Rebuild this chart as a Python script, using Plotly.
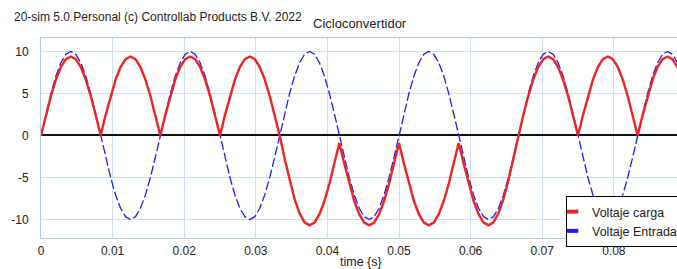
import plotly.graph_objects as go

# sampling: one value every 15 degrees of the 60 Hz supply (1/1440 s)
SAMPLE_STEP = 1 / 1440

voltaje_entrada = [
    0.0, 2.59, 5.0, 7.07, 8.66, 9.66, 10.0, 9.66, 8.66, 7.07, 5.0, 2.59,
    0.0, -2.59, -5.0, -7.07, -8.66, -9.66, -10.0, -9.66, -8.66, -7.07, -5.0, -2.59,
    0.0, 2.59, 5.0, 7.07, 8.66, 9.66, 10.0, 9.66, 8.66, 7.07, 5.0, 2.59,
    0.0, -2.59, -5.0, -7.07, -8.66, -9.66, -10.0, -9.66, -8.66, -7.07, -5.0, -2.59,
    0.0, 2.59, 5.0, 7.07, 8.66, 9.66, 10.0, 9.66, 8.66, 7.07, 5.0, 2.59,
    0.0, -2.59, -5.0, -7.07, -8.66, -9.66, -10.0, -9.66, -8.66, -7.07, -5.0, -2.59,
    0.0, 2.59, 5.0, 7.07, 8.66, 9.66, 10.0, 9.66, 8.66, 7.07, 5.0, 2.59,
    0.0, -2.59, -5.0, -7.07, -8.66, -9.66, -10.0, -9.66, -8.66, -7.07, -5.0, -2.59,
    0.0, 2.59, 5.0, 7.07, 8.66, 9.66, 10.0, 9.66, 8.66, 7.07, 5.0, 2.59,
    0.0, -2.59, -5.0, -7.07, -8.66, -9.66, -10.0, -9.66, -8.66, -7.07, -5.0, -2.59,
    0.0, 2.59, 5.0, 7.07, 8.66, 9.66, 10.0, 9.66, 8.66, 7.07, 5.0, 2.59,
    0.0, -2.59, -5.0, -7.07, -8.66, -9.66, -10.0, -9.66, -8.66, -7.07, -5.0, -2.59,
    0.0,
]

voltaje_carga = [
    0.0, 2.43, 4.7, 6.65, 8.14, 9.08, 9.4, 9.08, 8.14, 6.65, 4.7, 2.43,
    0.0, 2.43, 4.7, 6.65, 8.14, 9.08, 9.4, 9.08, 8.14, 6.65, 4.7, 2.43,
    0.0, 2.43, 4.7, 6.65, 8.14, 9.08, 9.4, 9.08, 8.14, 6.65, 4.7, 2.43,
    0.0, 2.43, 4.7, 6.65, 8.14, 9.08, 9.4, 9.08, 8.14, 6.65, 4.7, 2.43,
    0.0, -2.77, -5.35, -7.57, -9.27, -10.34, -10.7, -10.36, -9.37, -7.8, -5.75, -3.36,
    -0.9, -3.36, -5.75, -7.8, -9.37, -10.36, -10.7, -10.36, -9.37, -7.8, -5.75, -3.36,
    -0.9, -3.36, -5.75, -7.8, -9.37, -10.36, -10.7, -10.36, -9.37, -7.8, -5.75, -3.36,
    -0.9, -3.36, -5.75, -7.8, -9.37, -10.36, -10.7, -10.34, -9.27, -7.57, -5.35, -2.77,
    0.0, 2.43, 4.7, 6.65, 8.14, 9.08, 9.4, 9.08, 8.14, 6.65, 4.7, 2.43,
    0.0, 2.43, 4.7, 6.65, 8.14, 9.08, 9.4, 9.08, 8.14, 6.65, 4.7, 2.43,
    0.0, 2.43, 4.7, 6.65, 8.14, 9.08, 9.4, 9.08, 8.14, 6.65, 4.7, 2.43,
    0.0, 2.43, 4.7, 6.65, 8.14, 9.08, 9.4, 9.08, 8.14, 6.65, 4.7, 2.43,
    0.0,
]

x_ticks = [0, 0.01, 0.02, 0.03, 0.04, 0.05, 0.06, 0.07, 0.08]
x_tick_labels = ["0", "0.01", "0.02", "0.03", "0.04", "0.05", "0.06", "0.07", "0.08"]
y_ticks = [-10, -5, 0, 5, 10]
y_tick_labels = ["-10", "-5", "0", "5", "10"]

RED = "#ee2424"
BLUE = "#1c1cff"
GRID = "#cfe0f5"
FRAME = "#b3cbea"
FONT = "Liberation Sans, Arial, sans-serif"
TXT = "#222222"

fig = go.Figure()
fig.add_trace(go.Scatter(
    x0=0, dx=SAMPLE_STEP, y=voltaje_entrada, mode="lines",
    line=dict(color=BLUE, width=1.3, dash="9px,3px"),
    name="Voltaje Entrada", showlegend=False,
))
fig.add_trace(go.Scatter(
    x0=0, dx=SAMPLE_STEP, y=voltaje_carga, mode="lines",
    line=dict(color=RED, width=2.4),
    name="Voltaje carga", showlegend=False,
))
# legend entries (block symbols like the original)
fig.add_trace(go.Scatter(
    x=[None], y=[None], mode="markers", name="Voltaje carga",
    marker=dict(symbol="line-ew", size=9, line=dict(color=RED, width=4)),
    legendrank=1,
))
fig.add_trace(go.Scatter(
    x=[None], y=[None], mode="markers", name="Voltaje Entrada",
    marker=dict(symbol="line-ew", size=9, line=dict(color=BLUE, width=4)),
    legendrank=2,
))

W, H = 780, 269
ML, MR, MT, MB = 41, 23, 38, 31
YR = [-12.2, 11.6]
XR = [0, 0.1]
zero_pos = (0 - YR[0]) / (YR[1] - YR[0])
pw = W - ML - MR
ph = H - MT - MB

fig.update_layout(
    width=W, height=H,
    margin=dict(l=ML, r=MR, t=MT, b=MB),
    paper_bgcolor="white", plot_bgcolor="white",
    font=dict(family=FONT, size=12, color=TXT),
    showlegend=True,
    legend=dict(
        x=(566 - ML) / pw, y=(238 - 196) / ph,
        xanchor="left", yanchor="top",
        bgcolor="white", bordercolor="black", borderwidth=1,
        font=dict(family=FONT, size=12.5, color=TXT),
        itemwidth=30, indentation=-15, tracegroupgap=0,
    ),
    xaxis=dict(
        range=XR, tickvals=x_ticks, ticktext=x_tick_labels,
        showgrid=True, gridcolor=GRID, gridwidth=1,
        showline=True, linecolor=FRAME, linewidth=1, mirror=True,
        zeroline=False, ticks="", ticklabelstandoff=2,
        tickfont=dict(size=12, color=TXT),
    ),
    yaxis=dict(
        range=YR, tickvals=y_ticks, ticktext=y_tick_labels,
        showgrid=True, gridcolor=GRID, gridwidth=1,
        showline=True, linecolor=FRAME, linewidth=1, mirror=True,
        zeroline=True, zerolinecolor="#111111", zerolinewidth=1.5,
        ticks="", ticklabelstandoff=9,
        tickfont=dict(size=12, color=TXT),
    ),
    xaxis2=dict(
        overlaying="x", anchor="free", position=zero_pos, range=XR,
        tickvals=x_ticks, showticklabels=False, showgrid=False, zeroline=False,
        showline=False, ticks="inside", ticklen=3, tickcolor="#444444", tickwidth=1,
    ),
    xaxis3=dict(
        overlaying="x", anchor="free", position=zero_pos, range=XR,
        tickvals=x_ticks, showticklabels=False, showgrid=False, zeroline=False,
        showline=False, ticks="outside", ticklen=3, tickcolor="#444444", tickwidth=1,
    ),
)

fig.add_annotation(
    text="20-sim 5.0 Personal (c) Controllab Products B.V. 2022",
    xref="paper", yref="paper", x=(12 - ML) / pw, y=(H - MB - 17) / ph,
    xanchor="left", yanchor="middle", showarrow=False,
    font=dict(family=FONT, size=12, color=TXT),
)
fig.add_annotation(
    text="Cicloconvertidor",
    xref="paper", yref="paper", x=(311 - ML) / pw, y=(H - MB - 23.5) / ph,
    xanchor="left", yanchor="middle", showarrow=False,
    font=dict(family=FONT, size=13, color=TXT),
)
fig.add_annotation(
    text="time {s}",
    xref="paper", yref="paper", x=(361 - ML) / pw, y=(H - MB - 261.5) / ph,
    xanchor="center", yanchor="middle", showarrow=False,
    font=dict(family=FONT, size=12.5, color=TXT),
)

fig.write_html(
    "out.html",
    config={"displayModeBar": False},
    post_script="document.body.style.margin='0';document.body.style.overflow='hidden';",
)
